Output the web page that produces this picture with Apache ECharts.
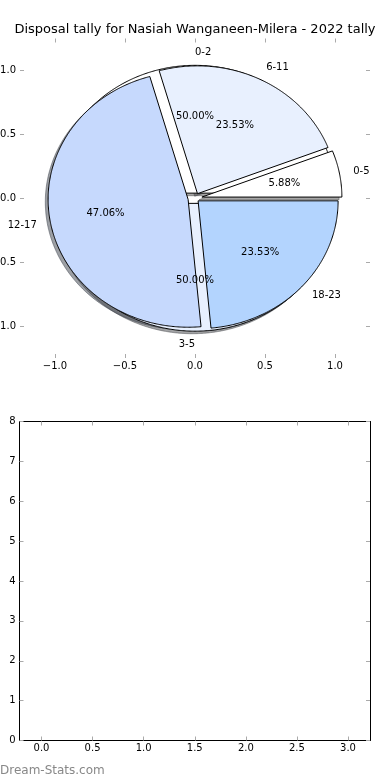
<!DOCTYPE html>
<html><head><meta charset="utf-8">
<script src="https://cdn.jsdelivr.net/npm/echarts@6/dist/echarts.min.js"></script>
<style>html,body{margin:0;padding:0;background:#fff}#c{width:390px;height:780px}</style>
</head><body><div id="c"></div>
<script>
// ---- data ----
const titleText = 'Disposal tally for Nasiah Wanganeen-Milera - 2022 tally';
const outerCategories = ['0-5', '6-11', '12-17', '18-23'];
const outerValues = [1, 4, 8, 4];
const innerCategories = ['0-2', '3-5'];
const innerValues = [1, 1];
const pieXTicks = [-1, -0.5, 0, 0.5, 1];
const pieYTicks = [-1, -0.5, 0, 0.5, 1];
const barXTicks = [0, 0.5, 1, 1.5, 2, 2.5, 3];
const barYTicks = [0, 1, 2, 3, 4, 5, 6, 7, 8];
const watermarkText = 'Dream-Stats.com';

// ---- styles ----
const outerColors = ['#ffffff', '#e8f0fe', '#c6d9fd', '#b3d4fe'];
const outerExplode = [0.05, 0.04, 0.05, 0.03];
const innerColors = ['#ffffff', '#e8f0fe'];
const innerExplode = [0.04, 0.04];
const FONT = 'DejaVu Sans';
const TICK_COLOR = '#aaaaaa';

function buildWedges(values, cats, colors, explode) {
  const total = values.reduce((a, b) => a + b, 0);
  let t1 = 0;
  const out = [];
  values.forEach((v, i) => {
    const t2 = t1 + v / total;
    const mid = Math.PI * (t1 + t2);
    out.push({
      a1: 2 * Math.PI * t1, a2: 2 * Math.PI * t2, mid,
      cx: explode[i] * Math.cos(mid), cy: explode[i] * Math.sin(mid),
      color: colors[i], label: cats[i],
      pct: (100 * v / total).toFixed(2) + '%'
    });
    t1 = t2;
  });
  return out;
}
const wedges = buildWedges(innerValues, innerCategories, innerColors, innerExplode)
  .concat(buildWedges(outerValues, outerCategories, outerColors, outerExplode));

function wedgePoints(w, api, dx, dy) {
  const pts = [api.coord([w.cx + dx, w.cy + dy])];
  const n = Math.max(8, Math.ceil((w.a2 - w.a1) / (Math.PI / 360)));
  for (let k = 0; k <= n; k++) {
    const a = w.a1 + (w.a2 - w.a1) * k / n;
    pts.push(api.coord([w.cx + dx + Math.cos(a), w.cy + dy + Math.sin(a)]));
  }
  return pts;
}
function shadowColor(hex) {
  const r = parseInt(hex.slice(1, 3), 16), g = parseInt(hex.slice(3, 5), 16), b = parseInt(hex.slice(5, 7), 16);
  return 'rgba(' + Math.round(r * 0.3) + ',' + Math.round(g * 0.3) + ',' + Math.round(b * 0.3) + ',0.5)';
}

const labelItems = [];
wedges.forEach(w => {
  const lx = w.cx + 1.1 * Math.cos(w.mid), ly = w.cy + 1.1 * Math.sin(w.mid);
  labelItems.push({ x: lx, y: ly, text: w.label, align: lx > 0 ? 'left' : 'right' });
});
wedges.forEach(w => {
  const px = w.cx + 0.6 * Math.cos(w.mid), py = w.cy + 0.6 * Math.sin(w.mid);
  labelItems.push({ x: px, y: py, text: w.pct, align: 'center' });
});

const fmtNum = v => (v < 0 ? '\u2212' : '') + Math.abs(v).toFixed(1);

function mkAxis(opts) {
  const { gridIndex, position, min, max, ticks, fmt, showLabel, line } = opts;
  return {
    gridIndex, type: 'value', position, min, max,
    axisLine: { show: !!line, onZero: false, lineStyle: { color: '#000', width: 1 } },
    splitLine: { show: false },
    axisTick: { show: true, inside: true, length: 4, customValues: ticks,
      lineStyle: { color: TICK_COLOR, width: 1 } },
    axisLabel: {
      show: !!showLabel, customValues: ticks,
      margin: (position === 'left' || position === 'right') ? 4 : 3,
      color: '#000', fontSize: 10, fontFamily: FONT,
      formatter: fmt
    }
  };
}

const option = {
  animation: false,
  backgroundColor: '#ffffff',
  grid: [
    { left: 20, top: 38.5, width: 350, height: 319.5, containLabel: false, outerBoundsMode: 'none' },
    { left: 19.5, top: 421.5, width: 350.5, height: 319, containLabel: false, outerBoundsMode: 'none' }
  ],
  xAxis: [
    mkAxis({ gridIndex: 0, position: 'bottom', min: -1.25, max: 1.25, ticks: pieXTicks, fmt: fmtNum, showLabel: true }),
    mkAxis({ gridIndex: 0, position: 'top', min: -1.25, max: 1.25, ticks: pieXTicks, fmt: fmtNum, showLabel: false }),
    mkAxis({ gridIndex: 1, position: 'bottom', min: -0.215, max: 3.215, ticks: barXTicks, fmt: fmtNum, showLabel: true, line: true }),
    mkAxis({ gridIndex: 1, position: 'top', min: -0.215, max: 3.215, ticks: barXTicks, fmt: fmtNum, showLabel: false, line: true })
  ],
  yAxis: [
    mkAxis({ gridIndex: 0, position: 'left', min: -1.25, max: 1.25, ticks: pieYTicks, fmt: fmtNum, showLabel: true }),
    mkAxis({ gridIndex: 0, position: 'right', min: -1.25, max: 1.25, ticks: pieYTicks, fmt: fmtNum, showLabel: false }),
    mkAxis({ gridIndex: 1, position: 'left', min: 0, max: 8, ticks: barYTicks, fmt: v => String(v), showLabel: true, line: true }),
    mkAxis({ gridIndex: 1, position: 'right', min: 0, max: 8, ticks: barYTicks, fmt: v => String(v), showLabel: false, line: true })
  ],
  graphic: [
    { type: 'text', x: 195, y: 30, z: 100,
      style: { text: titleText, font: '13px "DejaVu Sans"', fill: '#000',
        align: 'center', verticalAlign: 'middle', textAlign: 'center', textVerticalAlign: 'middle' } },
    { type: 'text', x: 0, y: 771, z: 100,
      style: { text: watermarkText, font: '12px "DejaVu Sans"', fill: '#888888',
        align: 'left', verticalAlign: 'middle', textAlign: 'left', textVerticalAlign: 'middle' } }
  ],
  series: [
    { // shadows
      type: 'custom', coordinateSystem: 'cartesian2d', xAxisIndex: 0, yAxisIndex: 0, z: 1,
      data: wedges.map(w => [w.cx, w.cy]),
      renderItem: (params, api) => {
        const w = wedges[params.dataIndex];
        const c = shadowColor(w.color);
        return { type: 'polygon', shape: { points: wedgePoints(w, api, -0.02, -0.02) },
          style: { fill: c, stroke: c, lineWidth: 1 } };
      }
    },
    { // wedges (inner pie first, then outer pie on top)
      type: 'custom', coordinateSystem: 'cartesian2d', xAxisIndex: 0, yAxisIndex: 0, z: 2,
      data: wedges.map(w => [w.cx, w.cy]),
      renderItem: (params, api) => {
        const w = wedges[params.dataIndex];
        return { type: 'polygon', shape: { points: wedgePoints(w, api, 0, 0) },
          style: { fill: w.color, stroke: '#000', lineWidth: 1, lineJoin: 'miter' } };
      }
    },
    { // labels
      type: 'custom', coordinateSystem: 'cartesian2d', xAxisIndex: 0, yAxisIndex: 0, z: 3,
      data: labelItems.map(l => [l.x, l.y]),
      renderItem: (params, api) => {
        const l = labelItems[params.dataIndex];
        const p = api.coord([l.x, l.y]);
        return { type: 'text', x: p[0], y: p[1],
          style: { text: l.text, font: '10px "DejaVu Sans"', fill: '#000',
            align: l.align, verticalAlign: 'middle', textAlign: l.align, textVerticalAlign: 'middle' } };
      }
    }
  ]
};

const chart = echarts.init(document.getElementById('c'), null, { renderer: 'canvas' });
chart.setOption(option);
</script>
</body></html>
